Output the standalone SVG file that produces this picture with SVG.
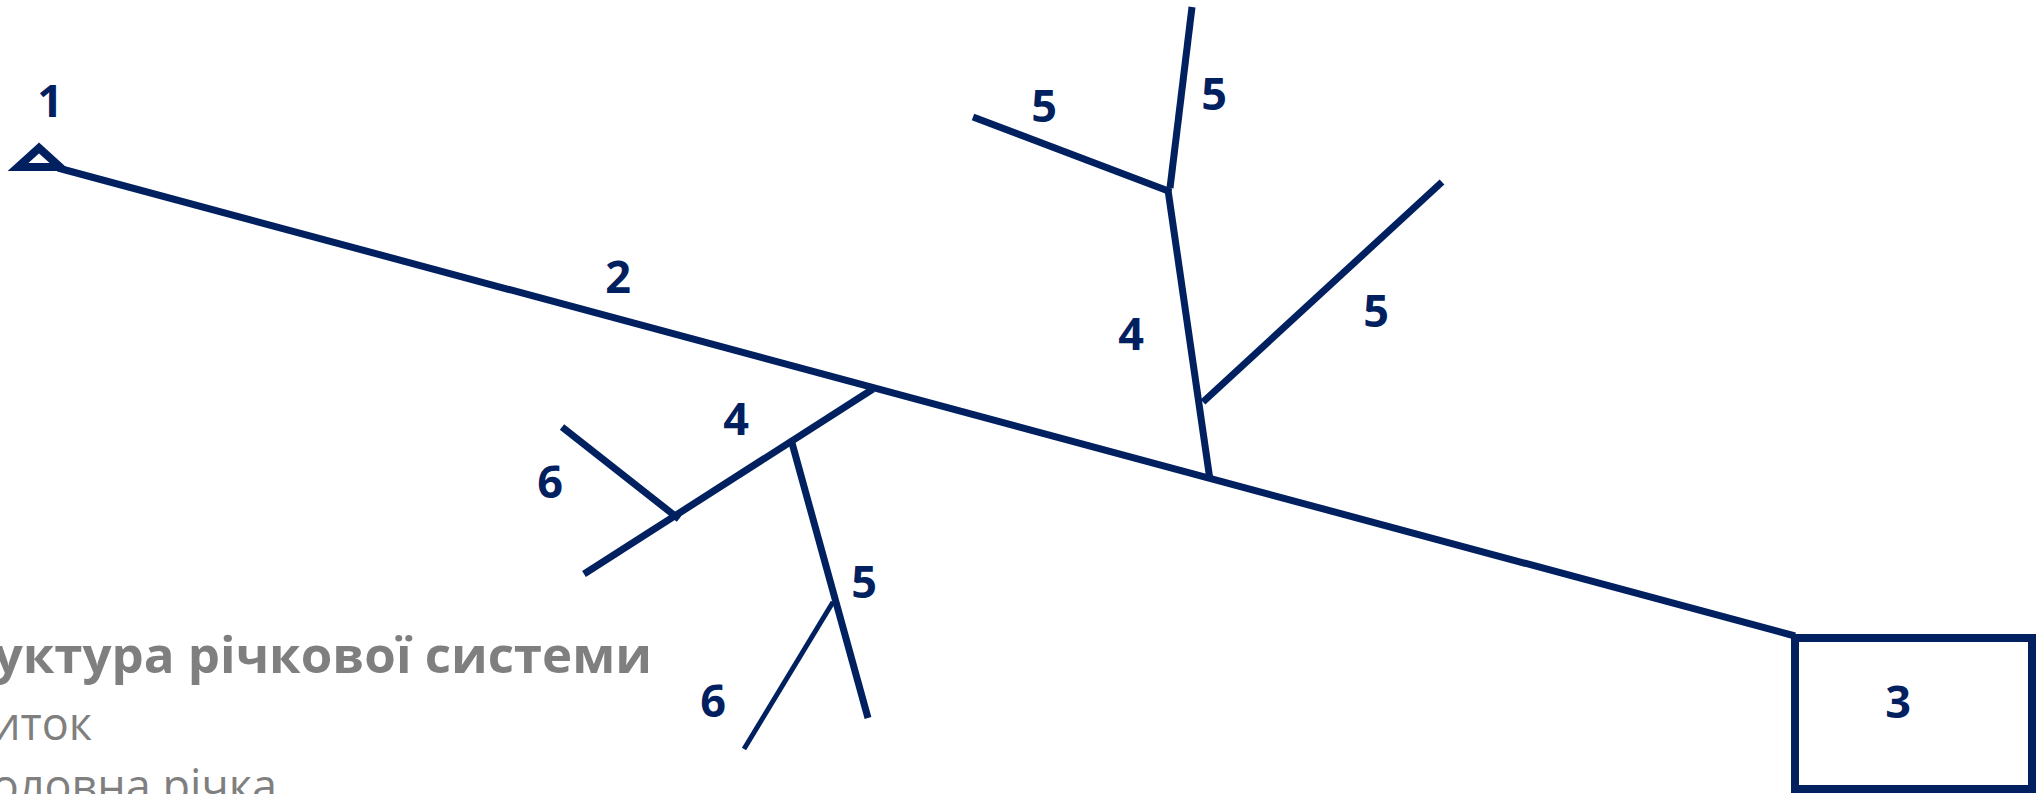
<svg xmlns="http://www.w3.org/2000/svg" width="2036" height="794" viewBox="0 0 2036 794">
<style>
.ln{stroke:#002060;stroke-width:7;fill:none;stroke-linecap:butt}
.thin{stroke:#002060;stroke-width:5;fill:none}
.lbl{font-family:"Open Sans","Noto Sans",sans-serif;font-weight:700;font-size:45px;fill:#002060;text-anchor:middle}
.ttl{font-family:"Open Sans","Noto Sans",sans-serif;font-weight:700;font-size:51px;fill:#7F7F7F;text-anchor:end}
.sub{font-family:"Open Sans","Noto Sans",sans-serif;font-weight:400;font-size:45px;fill:#7F7F7F;text-anchor:end}
</style>
<rect width="2036" height="794" fill="#FFFFFF"/>
<g id="connectors">
<line class="ln" x1="58" y1="168" x2="1795" y2="636"/>
<line class="ln" x1="1168" y1="190" x2="1210" y2="480"/>
<line class="ln" x1="1192" y1="7" x2="1170" y2="188"/>
<line class="ln" x1="973" y1="117" x2="1171" y2="192"/>
<line class="ln" x1="1442" y1="182" x2="1203" y2="402"/>
<line class="ln" x1="873" y1="389" x2="584" y2="574"/>
<line class="ln" x1="562" y1="427" x2="679" y2="519"/>
<line class="ln" x1="792" y1="443" x2="868" y2="718"/>
<line class="thin" x1="833" y1="602" x2="744" y2="749"/>
</g>
<g id="node1">
<polygon points="39,148 18,167 60,167" fill="none" stroke="#002060" stroke-width="8"/>
<text class="lbl" x="50" y="117">1</text>
</g>
<g id="node2"><text class="lbl" x="618" y="293">2</text></g>
<g id="node3">
<rect x="1795" y="638" width="237" height="151" fill="none" stroke="#002060" stroke-width="8"/>
<text class="lbl" x="1898" y="718">3</text>
</g>
<g id="node4a"><text class="lbl" x="736" y="435">4</text></g>
<g id="node4b"><text class="lbl" x="1131" y="350">4</text></g>
<g id="node5a"><text class="lbl" x="1044" y="122">5</text></g>
<g id="node5b"><text class="lbl" x="1214" y="110">5</text></g>
<g id="node5c"><text class="lbl" x="1376" y="327">5</text></g>
<g id="node5d"><text class="lbl" x="864" y="598">5</text></g>
<g id="node6a"><text class="lbl" x="550" y="498">6</text></g>
<g id="node6b"><text class="lbl" x="713" y="717">6</text></g>
<g id="legend">
<text class="ttl" x="652" y="673">уктура річкової системи</text>
<text class="sub" x="92" y="740">иток</text>
<text class="sub" x="277" y="802">оловна річка</text>
</g>
</svg>
